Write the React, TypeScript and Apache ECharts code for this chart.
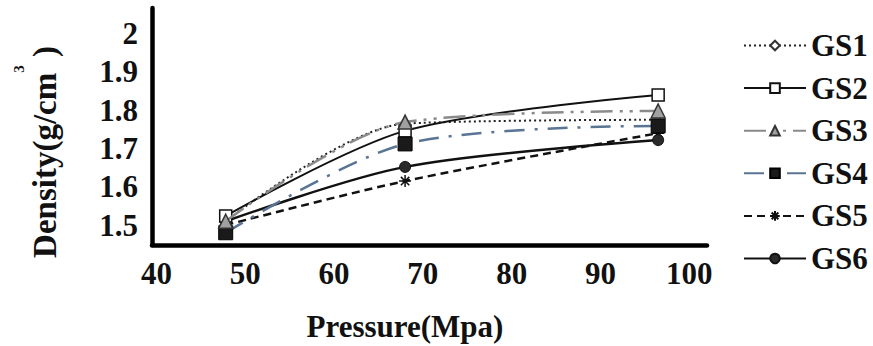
import React, { useEffect, useRef } from "react";
import * as echarts from "echarts";

const pressure = [47.8, 68, 96.5];
const gs1 = [1.51, 1.765, 1.775];
const gs2 = [1.524, 1.746, 1.84];
const gs3 = [1.51, 1.769, 1.798];
const gs4 = [1.48, 1.712, 1.759];
const gs5 = [1.5, 1.615, 1.74];
const gs6 = [1.51, 1.652, 1.722];
const seriesNames = ["GS1", "GS2", "GS3", "GS4", "GS5", "GS6"];
const xTickValues = [40, 50, 60, 70, 80, 90, 100];
const yTickValues = [1.5, 1.6, 1.7, 1.8, 1.9, 2];

const FONT = "'Liberation Serif', 'Times New Roman', Times, serif";
const ASTERISK = "path://M5,0L5,10M0,5L10,5M1.5,1.5L8.5,8.5M1.5,8.5L8.5,1.5";

function pairs(vals: number[]) {
  return pressure.map((x, i) => [x, vals[i]]);
}

export default function App() {
  const ref = useRef<HTMLDivElement>(null);
  useEffect(() => {
    if (!ref.current) return;
    const chart = echarts.init(ref.current, null, { renderer: "svg" });
    const labelStyle = { fontFamily: FONT, fontWeight: "bold" as const, fontSize: 31, color: "#111" };
    const smooth = 0.3;
    const option: any = {
      animation: false,
      backgroundColor: "#fff",
      grid: { left: 152, right: 166, top: 8, bottom: 101, containLabel: false },
      xAxis: {
        type: "value",
        min: 39.5,
        max: 102,
        axisLine: { show: true, onZero: false, lineStyle: { color: "#000", width: 4.5 } },
        axisTick: { show: false },
        splitLine: { show: false },
        axisLabel: { ...labelStyle, customValues: xTickValues, margin: 13 },
      },
      yAxis: {
        type: "value",
        min: 1.448,
        max: 2.067,
        axisLine: { show: true, onZero: false, lineStyle: { color: "#000", width: 4.5 } },
        axisTick: { show: false },
        splitLine: { show: false },
        axisLabel: { ...labelStyle, customValues: yTickValues, margin: 14 },
      },
      legend: {
        orient: "vertical",
        left: 738,
        top: 25,
        itemWidth: 62,
        itemHeight: 12,
        itemGap: 11.6,
        textStyle: { fontFamily: FONT, fontWeight: "bold", fontSize: 31, color: "#111", lineHeight: 30 },
        data: seriesNames,
      },
      graphic: [
        {
          type: "text",
          x: 405,
          y: 326,
          style: {
            text: "Pressure(Mpa)",
            fontFamily: FONT,
            fontWeight: "bold",
            fontSize: 31,
            fill: "#111",
            align: "center",
            verticalAlign: "middle",
          },
        },
        {
          type: "text",
          x: 36,
          y: 152,
          rotation: Math.PI / 2,
          style: {
            text: "{a|Density(g/cm}{s|3}{a| )}",
            align: "center",
            verticalAlign: "middle",
            fill: "#111",
            rich: {
              a: { fontFamily: FONT, fontWeight: "bold", fontSize: 33, lineHeight: 50, verticalAlign: "bottom", fill: "#111" },
              s: { fontFamily: FONT, fontWeight: "bold", fontSize: 15, lineHeight: 50, verticalAlign: "top", fill: "#111" },
            },
          },
        },
      ],
      series: [
        {
          name: "GS1",
          type: "line",
          data: pairs(gs1),
          smooth,
          symbol: "diamond",
          symbolSize: 7,
          lineStyle: { color: "#222", width: 2, type: [2, 3] },
          itemStyle: { color: "#fff", borderColor: "#333", borderWidth: 1 },
          z: 3,
        },
        {
          name: "GS2",
          type: "line",
          data: pairs(gs2),
          smooth,
          symbol: "rect",
          symbolSize: 12,
          lineStyle: { color: "#111", width: 2, type: "solid" },
          itemStyle: { color: "#fff", borderColor: "#111", borderWidth: 1.5 },
          z: 4,
        },
        {
          name: "GS3",
          type: "line",
          data: pairs(gs3),
          smooth,
          symbol: "triangle",
          symbolSize: 14,
          lineStyle: { color: "#8a8a8a", width: 2.5, type: [22, 7, 3, 7, 3, 7] },
          itemStyle: { color: "#a0a0a0", borderColor: "#333", borderWidth: 1.5 },
          z: 5,
        },
        {
          name: "GS4",
          type: "line",
          data: pairs(gs4),
          smooth,
          symbol: "rect",
          symbolSize: 14,
          lineStyle: { color: "#5a7494", width: 2.5, type: [20, 10, 3, 10] },
          itemStyle: { color: "#1a1a1a", borderColor: "#000", borderWidth: 1 },
          z: 4,
        },
        {
          name: "GS5",
          type: "line",
          data: pairs(gs5),
          smooth,
          symbol: ASTERISK,
          symbolSize: 12,
          lineStyle: { color: "#111", width: 2.5, type: [8, 5] },
          itemStyle: { color: "#111", borderColor: "#111", borderWidth: 1.5 },
          z: 3,
        },
        {
          name: "GS6",
          type: "line",
          data: pairs(gs6),
          smooth,
          symbol: "circle",
          symbolSize: 11,
          lineStyle: { color: "#111", width: 2.5, type: "solid" },
          itemStyle: { color: "#2a2a2a", borderColor: "#111", borderWidth: 1 },
          z: 3,
        },
      ],
    };
    chart.setOption(option);
    return () => chart.dispose();
  }, []);
  return (
    <div
      ref={ref}
      style={{ position: "fixed", left: 0, top: 0, width: 873, height: 346, background: "#fff" }}
    />
  );
}
